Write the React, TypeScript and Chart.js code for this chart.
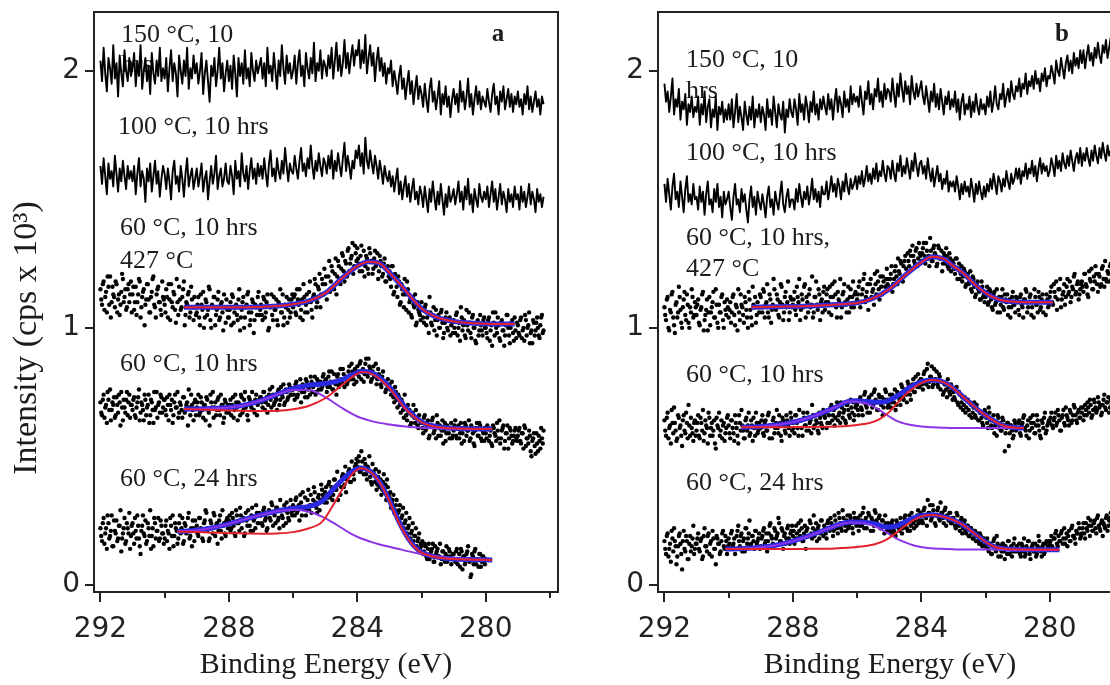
import React, { useEffect, useRef } from "react";
import { Chart, registerables } from "chart.js";

Chart.register(...registerables);

// ---------- axes ----------
const E_START = 292; // binding energy of first sample (eV)
const STEP = 0.05; // eV between consecutive samples of one array
const E_START_ODD = 291.975; // interleaved second pass of the dotted spectra
const X_TICKS = [292, 288, 284, 280];
const X_MINOR = [290, 286, 282, 278];
const Y_TICKS = [0, 1, 2];

// ---------- panel a : measured spectra (intensity x 100, 292 eV downward) ----------
const A_150C = [
  204,196,209,199,192,205,201,195,210,197,203,190,206,199,194,208,200,196,205,198,
  201,207,194,203,198,210,193,200,205,196,202,191,207,199,195,204,198,209,196,201,
  197,205,192,201,208,196,203,199,190,206,200,195,204,198,209,193,201,197,206,199,
  203,195,200,207,191,199,204,196,188,202,198,205,194,200,209,197,203,192,199,204,
  196,202,193,206,199,190,205,198,203,195,208,197,201,194,207,200,196,204,199,202,
  205,197,203,194,209,199,202,196,207,200,193,204,198,210,201,195,206,199,203,197,
  200,206,195,203,208,198,202,194,207,201,197,205,199,211,196,203,200,208,197,204,
  202,198,206,201,209,197,204,211,200,206,198,203,212,201,207,199,205,210,202,208,
  206,212,201,208,203,214,199,205,210,202,207,196,204,209,200,205,198,203,195,201,
  199,204,194,200,196,191,198,202,193,197,189,195,200,191,196,187,193,198,189,194,
  191,186,195,189,184,193,197,188,192,185,190,196,183,191,187,194,186,190,182,189,
  193,187,191,184,196,188,192,185,190,197,186,191,183,189,194,187,192,185,190,188,
  186,193,188,184,191,195,187,190,183,192,188,194,185,189,193,186,191,184,190,187,
  192,186,189,183,191,187,194,185,190,184,188,192,186,189,183,190,187,
];
const A_100C = [
  163,156,166,159,152,164,158,161,155,167,160,153,162,157,165,159,154,163,158,161,
  157,163,152,160,166,155,161,158,149,162,157,164,153,159,165,156,161,151,158,163,
  160,154,162,157,150,161,165,156,159,153,163,158,151,160,166,155,159,162,154,158,
  162,155,159,164,153,158,161,150,157,163,156,160,167,154,159,162,155,158,164,157,
  156,163,159,152,165,158,161,155,168,160,157,163,154,161,166,158,162,156,164,159,
  163,158,166,160,155,164,169,159,162,157,166,161,158,165,160,170,163,157,164,161,
  160,167,162,158,165,170,161,164,159,166,162,171,163,158,165,161,168,163,159,166,
  164,160,167,162,169,158,165,161,168,163,159,166,172,161,167,163,158,165,162,169,
  166,171,163,168,160,174,165,162,169,164,160,167,163,158,165,161,156,163,159,157,
  161,155,159,153,158,162,152,157,150,155,159,151,156,149,154,158,150,153,148,155,
  152,147,155,150,145,154,149,157,151,146,153,148,156,150,144,152,147,155,149,151,
  154,148,152,157,149,153,146,155,150,158,148,152,145,154,150,147,156,151,149,153,
  150,155,147,152,157,149,154,146,151,156,148,153,150,145,154,149,152,147,155,150,
  152,146,155,149,153,147,151,156,148,153,150,145,154,149,152,147,151,
];
const A_427C = [
  115,109,118,112,106,116,120,110,113,108,117,111,105,114,119,112,107,115,110,118,
  113,107,116,110,119,104,112,115,109,117,111,106,114,120,108,113,116,110,105,112,
  109,115,104,111,117,108,113,102,110,116,107,112,118,105,109,114,106,111,103,108,
  106,112,101,109,114,104,110,107,115,100,108,112,105,111,103,109,106,113,102,107,
  104,110,113,102,108,105,111,99,107,112,104,109,114,101,106,110,103,108,112,105,
  109,103,111,106,113,100,108,105,112,107,103,110,115,106,101,109,112,107,104,111,
  108,113,105,111,115,107,103,112,109,106,114,110,104,113,117,110,115,108,119,113,
  117,111,120,114,124,116,121,113,126,119,123,128,118,125,130,122,127,133,124,129,
  131,125,128,122,130,124,127,121,129,126,123,130,125,119,128,124,121,127,118,124,
  122,116,124,114,119,112,118,110,115,108,113,118,106,111,104,109,113,102,107,105,
  110,104,108,101,106,112,102,105,99,107,103,100,106,102,98,104,100,103,97,102,
  103,98,106,100,95,104,101,97,107,99,102,96,105,100,94,103,99,101,97,104,
  100,96,104,99,93,102,106,98,101,95,103,99,97,105,100,94,102,98,104,96,
  101,97,104,99,95,103,100,106,98,94,102,99,104,97,101,105,99,
];
const A_427C_ODD = [
  111,117,107,114,120,109,104,116,112,118,106,113,109,121,110,115,108,117,113,106,
  116,110,105,113,118,108,114,101,111,117,106,112,119,109,104,115,110,107,118,111,
  106,112,117,103,110,114,107,119,105,111,108,115,101,110,113,104,116,108,112,105,
  109,104,113,107,100,111,105,116,103,109,112,101,107,114,104,110,99,108,111,104,
  107,101,112,106,109,103,115,104,110,100,108,113,106,103,111,98,109,105,114,107,
  105,112,104,110,99,108,113,103,107,111,101,109,106,113,104,108,102,111,106,113,
  112,106,115,109,104,111,117,106,113,110,118,107,112,119,108,116,121,113,117,123,
  120,114,126,118,122,115,127,120,124,117,129,122,126,120,131,125,128,121,132,126,
  127,122,132,125,120,128,123,131,126,121,127,124,129,122,126,120,125,118,123,120,
  119,124,113,121,116,120,109,117,113,119,107,115,110,105,112,108,101,110,106,103,
  107,102,109,104,98,106,101,108,103,97,105,100,107,96,102,106,99,104,101,98,
  100,105,97,102,108,99,103,96,101,106,98,104,100,95,102,97,105,99,103,100,
  98,103,95,101,106,97,100,104,96,102,99,93,101,105,97,100,103,95,99,102,
  98,103,96,100,105,97,101,94,99,103,97,102,100,96,104,98,
];
const A_60C_10H = [
  71,66,74,69,63,72,76,68,70,65,73,67,71,75,64,69,72,66,74,70,
  68,73,65,71,76,67,70,64,72,69,74,66,71,63,68,75,70,67,73,69,
  72,66,70,74,68,63,71,69,75,67,70,65,73,68,71,76,66,70,64,72,
  69,74,67,71,65,70,73,68,62,71,75,69,66,72,68,74,70,65,71,69,
  67,72,70,65,74,69,71,66,73,68,75,70,64,72,69,71,67,74,70,72,
  73,69,75,71,67,74,72,77,70,73,68,76,72,74,78,71,75,73,77,74,
  76,72,79,74,77,71,78,75,80,73,77,81,75,78,74,80,76,79,77,82,
  78,75,81,77,83,76,79,74,82,78,80,84,77,81,79,85,80,83,78,82,
  85,81,87,83,79,86,82,88,84,80,85,82,78,84,81,77,83,79,76,80,
  78,74,76,71,75,69,73,67,71,65,69,64,67,62,66,70,63,65,61,64,
  63,59,66,61,64,58,62,65,60,57,63,61,58,64,60,56,62,59,61,57,
  60,64,57,62,59,55,61,63,58,60,56,62,59,54,61,58,63,57,60,56,
  59,62,56,60,54,61,58,63,57,55,60,62,56,59,53,61,58,56,60,57,
  58,61,55,59,62,54,57,60,52,56,59,51,55,58,53,57,60,
];
const A_60C_10H_ODD = [
  67,72,65,70,75,68,64,71,73,66,70,74,62,69,72,67,75,71,65,70,
  72,66,69,73,64,71,68,74,66,70,63,72,68,75,69,65,71,74,67,72,
  68,73,64,70,72,66,74,69,65,71,68,73,67,70,62,69,74,68,71,66,
  71,66,73,68,70,64,72,67,74,69,65,71,68,73,66,70,63,72,67,70,
  70,66,73,68,71,64,70,74,67,72,69,66,73,70,75,68,72,66,71,73,
  71,75,68,73,70,76,69,74,71,72,75,70,77,73,70,76,72,78,74,76,
  74,78,73,76,80,75,77,73,79,76,74,79,77,81,75,79,78,76,81,79,
  80,77,83,79,76,82,78,81,77,84,79,82,80,78,83,81,86,80,84,79,
  83,86,80,84,82,88,81,85,79,83,81,86,80,82,78,81,79,75,78,77,
  76,79,73,77,72,74,70,72,68,74,66,70,68,63,67,65,68,62,66,63,
  61,65,60,63,57,62,64,59,61,66,58,62,60,55,63,59,61,57,63,58,
  62,58,61,57,63,59,56,62,60,64,57,61,55,60,63,58,62,56,59,61,
  57,61,58,55,62,59,56,60,64,57,61,53,59,62,57,60,55,58,61,56,
  60,56,59,53,61,57,55,58,50,57,54,59,52,56,61,55,
];
const A_60C_24H = [
  22,17,26,20,14,24,19,27,15,21,25,18,23,13,20,26,17,22,28,19,
  24,16,21,27,18,12,23,20,25,17,22,29,19,15,24,21,26,18,23,20,
  18,25,21,14,23,27,19,22,16,24,20,26,17,23,21,28,19,15,22,25,
  23,19,26,21,17,25,28,22,18,24,20,27,23,16,25,21,29,24,19,26,
  25,21,28,23,19,27,24,30,22,26,20,25,29,23,27,21,26,31,24,28,
  27,23,30,26,22,29,25,31,28,24,30,26,33,27,23,29,32,26,30,28,
  31,27,34,29,25,32,36,30,27,33,29,35,31,38,32,28,35,33,37,34,
  36,32,39,34,38,35,41,37,33,40,38,43,39,36,42,45,40,44,41,47,
  46,50,44,48,43,47,41,45,42,39,44,40,37,42,38,35,40,36,33,38,
  34,30,33,28,31,26,29,24,27,22,25,20,23,18,21,17,19,15,18,14,
  15,12,16,11,14,10,13,16,9,12,14,11,8,13,10,12,9,14,11,10,
  12,9,14,10,7,13,11,8,12,15,9,4,11,13,8,10,12,7,11,9,
  10,
];
const A_60C_24H_ODD = [
  19,24,16,22,27,18,21,15,25,20,17,23,29,18,22,16,24,20,14,23,
  20,26,18,23,15,21,27,19,16,24,19,14,22,26,18,21,17,25,20,16,
  23,17,20,26,19,15,24,21,18,27,22,16,24,20,26,18,22,25,17,21,
  20,26,22,18,24,29,21,17,25,22,28,19,24,21,27,18,23,20,25,22,
  27,22,26,20,29,24,21,27,25,19,28,23,26,21,30,25,22,28,24,27,
  24,29,25,21,28,26,32,23,27,30,25,22,29,26,31,24,28,25,33,27,
  29,33,28,31,35,27,30,34,29,37,31,28,33,36,30,34,29,39,35,32,
  38,34,40,36,33,41,37,44,39,35,42,38,46,41,44,40,48,43,46,49,
  48,44,52,45,49,43,46,50,40,47,43,45,39,44,41,37,43,39,41,35,
  36,32,35,29,33,28,31,26,30,24,28,22,26,20,24,19,22,17,20,16,
  17,13,15,10,16,12,14,9,15,13,11,16,10,13,9,15,11,13,8,12,
  10,13,8,12,14,6,11,9,13,10,3,12,8,14,10,7,12,9,11,8,
];

// ---------- panel a : peak fits ----------
const FIT_A427_E = [289.4, 288.5, 287.5, 286.5, 286.0, 285.5, 285.0, 284.5, 284.0, 283.65, 283.3, 283.0, 282.5, 282.0, 281.5, 281.0, 280.5, 280.0, 279.1];
const FIT_A427_SUM = [1.080, 1.080, 1.080, 1.085, 1.092, 1.105, 1.135, 1.190, 1.240, 1.257, 1.250, 1.215, 1.145, 1.075, 1.040, 1.025, 1.019, 1.016, 1.015];

const FIT_A10_E = [289.4, 288.5, 288.0, 287.5, 287.0, 286.5, 286.0, 285.5, 285.0, 284.5, 284.0, 283.85, 283.5, 283.0, 282.5, 282.0, 281.5, 281.0, 280.5, 279.8];
const FIT_A10_SUM = [0.684, 0.686, 0.690, 0.700, 0.717, 0.741, 0.764, 0.777, 0.783, 0.797, 0.826, 0.831, 0.822, 0.770, 0.690, 0.634, 0.615, 0.609, 0.607, 0.606];
const FIT_A10_C1 = [0.684, 0.680, 0.678, 0.677, 0.676, 0.677, 0.683, 0.697, 0.726, 0.775, 0.822, 0.828, 0.818, 0.765, 0.685, 0.632, 0.614, 0.609, 0.607, 0.606];
const FIT_A10_C2 = [0.684, 0.686, 0.690, 0.700, 0.717, 0.740, 0.758, 0.758, 0.730, 0.690, 0.655, 0.648, 0.635, 0.624, 0.616, 0.611, 0.609, 0.607, 0.606, 0.606];

const FIT_A24_E = [289.6, 289.0, 288.5, 288.0, 287.5, 287.0, 286.5, 286.0, 285.5, 285.1, 284.8, 284.5, 284.2, 283.9, 283.6, 283.3, 283.0, 282.7, 282.4, 282.1, 281.8, 281.4, 281.0, 280.5, 279.8];
const FIT_A24_SUM = [0.207, 0.212, 0.222, 0.237, 0.255, 0.272, 0.287, 0.298, 0.305, 0.325, 0.365, 0.405, 0.438, 0.455, 0.442, 0.400, 0.328, 0.245, 0.178, 0.135, 0.116, 0.105, 0.100, 0.098, 0.097];
const FIT_A24_C1 = [0.207, 0.205, 0.203, 0.201, 0.200, 0.199, 0.200, 0.205, 0.220, 0.245, 0.300, 0.365, 0.425, 0.454, 0.440, 0.398, 0.325, 0.240, 0.175, 0.133, 0.115, 0.104, 0.100, 0.098, 0.097];
const FIT_A24_C2 = [0.207, 0.212, 0.222, 0.237, 0.255, 0.272, 0.286, 0.292, 0.284, 0.265, 0.245, 0.222, 0.199, 0.181, 0.168, 0.157, 0.148, 0.139, 0.130, 0.122, 0.116, 0.108, 0.103, 0.099, 0.097];

// ---------- panel b : measured spectra (intensity x 100, 292 eV downward) ----------
const B_150C = [
  195,188,192,184,190,197,183,189,186,193,181,188,185,191,179,187,184,190,182,186,
  184,190,179,187,183,192,180,186,189,178,185,182,190,177,186,183,188,180,185,181,
  187,181,189,178,184,191,180,186,182,177,188,183,179,186,181,190,178,185,182,187,
  180,186,183,177,189,182,185,179,190,184,178,187,183,181,188,176,185,182,189,184,
  182,189,185,179,191,184,187,181,190,186,180,188,184,192,183,187,181,189,185,190,
  186,183,191,185,189,181,188,193,184,190,187,182,192,186,189,184,194,187,191,188,
  190,186,194,188,183,192,189,196,187,191,185,193,190,197,188,192,186,195,189,193,
  192,188,197,191,186,195,190,199,193,188,196,191,194,187,198,192,189,195,190,193,
  196,190,187,194,189,184,192,188,195,186,191,185,193,188,183,190,187,192,185,189,
  186,192,184,189,181,188,191,183,187,185,190,182,188,184,191,186,183,189,185,187,
  183,190,186,192,184,188,194,187,185,191,189,195,186,190,193,188,196,191,189,194,
  192,197,190,195,193,199,191,196,194,198,193,200,195,197,192,199,196,201,194,198,
  197,202,199,195,204,200,198,205,201,197,203,206,200,204,199,207,202,205,201,208,
  203,208,201,206,210,204,207,202,209,205,211,206,203,210,207,212,205,209,213,207,
  210,206,213,208,211,
];
const B_100C = [
  156,149,158,152,146,155,160,150,153,147,157,151,145,154,159,149,152,148,156,150,
  151,146,155,149,153,144,152,157,148,150,145,154,149,156,147,151,143,153,148,150,
  153,147,142,151,156,148,150,145,154,149,152,146,141,150,155,147,151,144,153,149,
  146,152,148,143,151,155,147,150,144,153,149,146,152,157,148,145,151,154,147,150,
  150,146,154,149,156,151,147,153,150,155,148,152,158,150,154,149,153,147,155,152,
  152,157,150,154,159,153,156,151,158,155,150,157,153,160,155,152,158,154,156,159,
  154,159,156,161,155,158,163,157,160,156,162,158,164,157,161,159,165,160,157,163,
  162,158,165,160,157,164,161,167,159,163,160,166,162,158,165,161,168,163,159,164,
  165,160,163,158,166,161,157,162,155,159,163,157,160,154,158,156,161,153,157,155,
  157,153,159,155,150,156,152,157,153,155,151,158,154,149,156,152,157,153,150,155,
  151,156,153,158,154,160,156,152,159,157,153,158,155,161,157,154,160,156,158,162,
  158,162,156,161,159,164,158,162,160,165,159,163,157,162,166,160,164,161,163,159,
  161,166,163,159,167,162,165,161,168,164,162,167,163,169,165,161,166,168,164,170,
  163,168,165,170,166,163,169,165,171,167,164,170,166,172,168,165,171,167,169,173,
  168,172,166,171,169,
];
const B_427C = [
  108,103,112,99,106,114,101,109,104,116,107,100,111,105,113,102,108,115,104,110,
  105,111,101,108,114,103,107,99,112,106,110,104,115,102,109,106,113,100,107,111,
  104,110,106,113,101,108,115,103,109,105,112,107,100,111,104,116,108,102,110,106,
  112,106,114,109,117,104,111,107,119,108,113,105,110,116,103,112,108,118,106,111,
  109,114,105,112,119,107,111,116,104,110,113,108,120,106,112,109,115,103,111,114,
  107,113,110,116,105,112,118,108,114,110,104,113,117,109,111,106,115,112,108,114,
  111,116,108,113,119,110,114,107,117,112,115,121,113,118,111,116,120,114,119,117,
  116,121,114,119,124,117,122,126,119,124,128,121,126,130,123,128,125,131,127,129,
  126,131,128,133,127,124,130,126,132,128,125,131,127,122,129,125,128,123,127,124,
  125,121,127,123,119,124,120,122,117,121,118,115,120,116,113,118,114,111,116,113,
  112,116,110,114,108,113,109,115,111,106,112,108,113,110,105,111,108,114,109,112,
  110,105,113,108,111,115,106,110,113,108,104,112,109,114,107,111,106,110,113,108,
  112,116,109,114,118,111,115,108,113,117,112,119,114,110,116,120,113,117,111,115,
  118,114,121,116,112,119,123,115,118,121,114,120,117,124,116,119,122,118,125,120,
  121,118,124,120,123,
];
const B_427C_ODD = [
  105,111,100,107,113,104,98,110,106,112,102,108,114,103,109,100,106,112,105,108,
  109,102,107,113,99,105,111,106,101,108,114,104,109,100,106,112,103,110,105,108,
  107,102,112,105,109,99,106,113,108,102,110,104,114,107,101,109,112,105,108,113,
  108,115,104,110,106,113,102,109,115,107,111,104,117,109,106,114,110,103,112,108,
  111,107,116,110,103,113,108,117,112,106,115,109,104,112,118,107,113,110,106,116,
  110,115,106,112,117,109,113,104,111,119,108,114,110,106,116,112,108,118,113,110,
  113,118,110,115,121,112,117,111,119,114,109,117,122,115,120,113,118,116,123,119,
  119,124,117,122,120,127,121,125,118,126,123,129,124,128,132,126,130,124,133,128,
  129,133,125,130,128,135,126,131,129,124,132,127,130,125,128,131,124,129,122,126,
  123,127,119,125,121,118,123,116,120,117,122,114,119,112,117,115,111,118,112,110,
  114,109,115,111,107,114,110,106,112,109,115,107,111,113,108,104,112,109,106,111,
  107,112,109,104,111,114,108,112,105,110,115,109,106,112,108,113,110,105,111,109,
  114,110,117,112,107,115,119,111,114,109,116,113,118,112,115,121,114,118,113,117,
  116,121,117,113,122,118,115,120,124,117,121,116,123,119,126,118,121,124,119,122,
  119,125,121,124,
];
const B_60C_10H = [
  64,58,67,61,55,63,69,60,57,65,62,54,66,59,63,70,58,61,56,64,
  60,66,57,63,68,59,62,55,65,61,58,64,53,62,67,60,57,63,59,65,
  62,57,64,59,66,61,55,63,68,60,57,65,62,58,64,56,61,67,59,63,
  61,66,58,64,60,67,62,57,65,61,68,59,63,56,64,60,66,62,58,65,
  63,59,66,61,68,64,58,65,62,67,60,64,70,61,66,63,59,65,62,68,
  65,61,68,63,70,66,62,69,64,67,71,65,68,63,70,66,72,67,64,69,
  70,66,73,68,71,75,69,72,67,74,70,76,71,68,73,70,66,72,75,69,
  72,69,74,71,68,75,73,70,77,72,75,71,78,74,76,80,75,78,82,77,
  80,76,83,78,86,79,81,77,84,80,78,82,76,79,75,78,73,77,74,76,
  75,72,77,70,74,71,68,73,69,72,66,70,67,71,65,68,64,67,63,66,
  67,63,69,64,61,66,62,58,65,63,60,64,52,61,63,59,62,57,64,60,
  61,64,58,63,66,60,62,57,65,61,63,59,66,62,58,64,61,67,60,63,
  63,67,61,65,62,68,64,60,66,63,69,65,62,67,64,70,66,63,68,65,
  67,64,70,66,69,72,65,68,71,67,73,69,66,70,74,68,71,67,72,70,
  71,68,73,69,72,
];
const B_60C_10H_ODD = [
  60,65,57,62,68,59,63,56,66,61,58,64,60,67,57,62,65,59,63,58,
  63,58,65,60,56,64,61,67,58,63,60,55,65,61,58,64,62,56,61,66,
  59,64,61,56,63,58,66,60,62,57,64,60,67,59,62,65,58,63,60,61,
  64,59,63,60,66,57,62,64,59,63,61,66,58,65,62,59,64,61,67,60,
  61,66,63,58,64,61,67,62,60,65,63,59,66,62,64,60,67,63,61,66,
  67,63,66,69,64,68,65,71,66,63,69,67,64,70,68,65,69,71,66,70,
  68,72,69,66,74,70,67,73,71,69,75,72,68,74,71,73,69,76,72,70,
  74,71,73,76,70,74,72,78,73,76,74,79,76,72,78,75,81,77,79,80,
  78,82,79,84,77,81,85,78,80,83,77,81,79,74,78,76,80,75,78,72,
  73,76,71,75,69,73,70,67,72,68,71,65,69,66,70,64,67,65,62,68,
  65,61,67,62,64,59,63,66,61,60,65,62,59,63,54,62,60,58,63,61,
  63,59,62,65,61,58,64,60,63,66,59,62,64,60,57,63,65,59,62,64,
  65,62,64,67,63,66,60,65,68,62,66,64,68,63,66,69,64,67,65,69,
  69,66,68,71,67,70,66,72,69,68,71,70,67,72,69,71,73,69,70,72,
  70,73,68,71,
];
const B_60C_24H = [
  17,12,20,14,9,18,22,15,11,19,16,6,21,13,17,10,19,15,23,14,
  16,20,13,18,11,22,15,19,12,17,21,14,8,18,16,13,20,15,19,12,
  18,14,21,16,12,19,23,15,20,17,13,22,18,25,16,19,14,21,17,20,
  15,19,22,17,13,20,24,18,15,21,19,26,17,22,14,20,18,23,16,21,
  19,16,23,18,21,25,17,20,14,22,19,24,18,27,21,17,23,20,25,19,
  22,18,25,21,24,19,27,23,20,26,22,29,24,21,27,23,26,22,28,25,
  24,21,27,23,30,25,22,28,24,26,21,29,25,23,27,22,25,20,24,22,
  23,20,25,21,19,24,22,26,20,23,27,22,25,21,28,24,26,23,29,25,
  27,24,30,26,33,28,25,31,27,23,29,26,32,28,24,30,27,25,28,24,
  26,23,28,24,21,26,22,25,20,23,19,22,18,21,17,20,16,19,15,18,
  15,18,13,16,12,17,14,19,11,15,13,16,10,14,17,12,15,13,18,14,
  13,16,11,15,18,12,14,17,10,15,13,16,12,19,14,11,16,13,17,15,
  16,19,14,18,21,15,17,20,16,22,18,15,21,17,23,19,16,20,24,18,
  20,24,18,22,26,19,23,21,25,20,27,22,24,19,23,26,21,25,28,23,
  24,21,27,23,26,
];
const B_60C_24H_ODD = [
  14,19,11,16,21,13,17,8,15,20,12,17,14,19,10,16,13,18,12,16,
  18,14,17,10,19,15,13,20,16,11,18,14,19,16,12,17,21,14,17,15,
  16,20,15,18,14,21,17,19,13,18,22,16,20,15,19,17,21,16,18,14,
  18,21,16,20,17,23,19,16,22,18,20,24,17,21,19,16,22,18,20,23,
  21,18,20,24,19,22,17,23,21,19,25,20,22,19,24,22,18,25,21,23,
  20,24,22,26,23,21,25,22,28,24,21,26,23,25,22,27,24,20,26,23,
  26,23,25,28,22,26,24,27,21,25,23,28,24,26,22,25,23,27,21,24,
  21,24,22,20,25,23,21,24,22,26,24,21,27,23,26,22,25,27,24,28,
  25,29,27,23,28,31,26,29,24,27,30,25,28,26,29,23,26,28,24,26,
  25,22,27,23,25,20,24,21,23,19,22,20,18,21,19,17,20,16,18,15,
  17,14,16,12,15,18,13,16,14,11,16,13,15,12,17,14,11,16,13,15,
  14,12,16,13,11,15,17,12,14,16,13,11,15,17,13,15,12,16,14,17,
  17,15,18,20,16,19,17,21,18,16,20,19,17,22,19,18,21,20,22,19,
  22,20,24,21,23,25,21,24,22,26,23,21,25,24,22,27,23,26,24,22,
  23,26,24,25,
];

// ---------- panel b : peak fits ----------
const FIT_B427_E = [289.3, 288.5, 287.5, 287.0, 286.5, 286.0, 285.5, 285.0, 284.5, 284.0, 283.66, 283.3, 283.0, 282.7, 282.3, 281.8, 281.3, 280.8, 279.9];
const FIT_B427_SUM = [1.080, 1.082, 1.085, 1.088, 1.092, 1.097, 1.115, 1.150, 1.205, 1.255, 1.277, 1.268, 1.240, 1.213, 1.165, 1.121, 1.103, 1.100, 1.100];

const FIT_B10_E = [289.6, 289.0, 288.5, 288.0, 287.5, 287.0, 286.6, 286.3, 286.0, 285.6, 285.3, 285.0, 284.75, 284.4, 284.0, 283.66, 283.3, 283.0, 282.6, 282.1, 281.5, 281.2, 280.8];
const FIT_B10_SUM = [0.613, 0.616, 0.622, 0.633, 0.650, 0.674, 0.695, 0.713, 0.716, 0.712, 0.710, 0.718, 0.735, 0.765, 0.790, 0.797, 0.788, 0.765, 0.720, 0.668, 0.622, 0.613, 0.610];
const FIT_B10_C1 = [0.613, 0.613, 0.613, 0.614, 0.614, 0.615, 0.616, 0.618, 0.622, 0.630, 0.645, 0.672, 0.707, 0.750, 0.785, 0.797, 0.788, 0.765, 0.720, 0.668, 0.622, 0.613, 0.610];
const FIT_B10_C2 = [0.613, 0.616, 0.622, 0.633, 0.650, 0.674, 0.695, 0.713, 0.712, 0.700, 0.680, 0.655, 0.637, 0.624, 0.616, 0.613, 0.611, 0.610, 0.610, 0.610, 0.610, 0.610, 0.610];

const FIT_B24_E = [290.1, 289.5, 289.0, 288.5, 288.0, 287.5, 287.0, 286.6, 286.2, 285.8, 285.4, 285.1, 284.8, 284.5, 284.2, 283.9, 283.7, 283.4, 283.0, 282.7, 282.3, 281.8, 281.4, 281.0, 279.7];
const FIT_B24_SUM = [0.139, 0.141, 0.146, 0.155, 0.170, 0.190, 0.214, 0.233, 0.244, 0.243, 0.236, 0.225, 0.228, 0.245, 0.262, 0.271, 0.273, 0.268, 0.252, 0.233, 0.195, 0.152, 0.140, 0.137, 0.136];
const FIT_B24_C1 = [0.139, 0.139, 0.139, 0.139, 0.139, 0.140, 0.140, 0.142, 0.145, 0.150, 0.160, 0.175, 0.200, 0.230, 0.255, 0.270, 0.272, 0.268, 0.252, 0.233, 0.195, 0.152, 0.140, 0.137, 0.136];
const FIT_B24_C2 = [0.139, 0.141, 0.146, 0.155, 0.170, 0.190, 0.214, 0.232, 0.242, 0.240, 0.225, 0.205, 0.182, 0.165, 0.152, 0.145, 0.142, 0.140, 0.138, 0.137, 0.137, 0.137, 0.136, 0.136, 0.136];

// ---------- styling ----------
const BLUE = "#2a2ae0";
const RED = "#e3232c";
const PURPLE = "#8d34e6";
const INK = "#1c1c1c";
const SERIF = "'Liberation Serif', 'Times New Roman', serif";
const SANS = "'DejaVu Sans', Verdana, sans-serif";

type Label = { text: string; x: number; y: number; bold?: boolean; center?: boolean };
type Fit = { e: number[]; sum: number[]; c1: number[]; c2?: number[] };
type PanelSpec = { lines: number[][]; dots: number[][][]; fits: Fit[]; labels: Label[]; yTitle: boolean };

const PANEL_A: PanelSpec = {
  lines: [A_150C, A_100C],
  dots: [
    [A_427C, A_427C_ODD],
    [A_60C_10H, A_60C_10H_ODD],
    [A_60C_24H, A_60C_24H_ODD],
  ],
  fits: [
    { e: FIT_A427_E, sum: FIT_A427_SUM, c1: FIT_A427_SUM },
    { e: FIT_A10_E, sum: FIT_A10_SUM, c1: FIT_A10_C1, c2: FIT_A10_C2 },
    { e: FIT_A24_E, sum: FIT_A24_SUM, c1: FIT_A24_C1, c2: FIT_A24_C2 },
  ],
  labels: [
    { text: "150 °C, 10", x: 121, y: 35 },
    { text: "hrs", x: 121, y: 65 },
    { text: "a", x: 498, y: 35, bold: true, center: true },
    { text: "100 °C, 10 hrs", x: 118, y: 127 },
    { text: "60 °C, 10 hrs", x: 120, y: 228 },
    { text: "427 °C", x: 120, y: 261 },
    { text: "60 °C, 10 hrs", x: 120, y: 364 },
    { text: "60 °C, 24 hrs", x: 120, y: 479 },
  ],
  yTitle: true,
};

const PANEL_B: PanelSpec = {
  lines: [B_150C, B_100C],
  dots: [
    [B_427C, B_427C_ODD],
    [B_60C_10H, B_60C_10H_ODD],
    [B_60C_24H, B_60C_24H_ODD],
  ],
  fits: [
    { e: FIT_B427_E, sum: FIT_B427_SUM, c1: FIT_B427_SUM },
    { e: FIT_B10_E, sum: FIT_B10_SUM, c1: FIT_B10_C1, c2: FIT_B10_C2 },
    { e: FIT_B24_E, sum: FIT_B24_SUM, c1: FIT_B24_C1, c2: FIT_B24_C2 },
  ],
  labels: [
    { text: "b", x: 1062 - 564, y: 35, bold: true, center: true },
    { text: "150 °C, 10", x: 686 - 564, y: 60 },
    { text: "hrs", x: 686 - 564, y: 91 },
    { text: "100 °C, 10 hrs", x: 686 - 564, y: 153 },
    { text: "60 °C, 10 hrs,", x: 686 - 564, y: 238 },
    { text: "427 °C", x: 686 - 564, y: 269 },
    { text: "60 °C, 10 hrs", x: 686 - 564, y: 375 },
    { text: "60 °C, 24 hrs", x: 686 - 564, y: 483 },
  ],
  yTitle: false,
};

const sampled = (vals: number[], start = E_START) =>
  vals.map((v, i) => ({ x: start - i * STEP, y: v / 100 }));
const paired = (e: number[], v: number[]) => e.map((x, i) => ({ x, y: v[i] }));

function buildDatasets(p: PanelSpec) {
  const ds: any[] = [];
  p.lines.forEach((v) =>
    ds.push({
      type: "line",
      data: sampled(v),
      borderColor: "#000",
      borderWidth: 1.9,
      borderJoinStyle: "round",
      pointRadius: 0,
      tension: 0,
      order: 5,
    })
  );
  p.dots.forEach(([even, odd]) =>
    ds.push({
      type: "scatter",
      data: [...sampled(even), ...sampled(odd, E_START_ODD)],
      showLine: false,
      pointRadius: 2.2,
      pointBackgroundColor: "#000",
      pointBorderWidth: 0,
      order: 10,
    })
  );
  p.fits.forEach((f) => {
    const common = { type: "line", pointRadius: 0, cubicInterpolationMode: "monotone", fill: false };
    ds.push({ ...common, data: paired(f.e, f.sum), borderColor: BLUE, borderWidth: 5, order: 3 });
    if (f.c2) ds.push({ ...common, data: paired(f.e, f.c2), borderColor: PURPLE, borderWidth: 2, order: 2 });
    ds.push({ ...common, data: paired(f.e, f.c1), borderColor: RED, borderWidth: 2, order: 1 });
  });
  return ds;
}

function decoPlugin(p: PanelSpec) {
  return {
    id: "deco",
    beforeDatasetsDraw(chart: any) {
      const ctx = chart.ctx;
      ctx.save();
      ctx.fillStyle = INK;
      ctx.textBaseline = "middle";
      p.labels.forEach((l) => {
        ctx.font = l.bold ? `bold 25px ${SERIF}` : `26px ${SERIF}`;
        ctx.textAlign = l.center ? "center" : "left";
        ctx.fillText(l.text, l.x, l.y);
      });
      ctx.restore();
    },
    afterDraw(chart: any) {
      const ctx = chart.ctx;
      const a = chart.chartArea;
      const xs = chart.scales.x;
      ctx.save();
      ctx.strokeStyle = "#222";
      ctx.lineWidth = 2;
      ctx.strokeRect(a.left, a.top, a.right - a.left, a.bottom - a.top);
      X_MINOR.forEach((v) => {
        const px = Math.round(xs.getPixelForValue(v));
        ctx.beginPath();
        ctx.moveTo(px, a.bottom);
        ctx.lineTo(px, a.bottom + 6);
        ctx.stroke();
      });
      if (p.yTitle) {
        ctx.translate(27, 338);
        ctx.rotate(-Math.PI / 2);
        ctx.fillStyle = INK;
        ctx.font = `34px ${SERIF}`;
        ctx.textAlign = "center";
        ctx.textBaseline = "middle";
        ctx.fillText("Intensity (cps x 10³)", 0, 0);
      }
      ctx.restore();
    },
  };
}

function buildConfig(p: PanelSpec): any {
  return {
    type: "line",
    data: { datasets: buildDatasets(p) },
    plugins: [decoPlugin(p)],
    options: {
      animation: false,
      responsive: false,
      devicePixelRatio: 1,
      events: [],
      layout: { padding: { top: 12, right: 22, bottom: 0, left: 0 } },
      plugins: { legend: { display: false }, tooltip: { enabled: false } },
      scales: {
        x: {
          type: "linear",
          reverse: true,
          min: 277.75,
          max: 292.2,
          afterBuildTicks: (s: any) => {
            s.ticks = X_TICKS.map((v) => ({ value: v }));
          },
          afterFit: (s: any) => {
            s.height = 93;
            s.paddingLeft = 0;
            s.paddingRight = 0;
          },
          ticks: {
            font: { family: SANS, size: 28 },
            color: "#222",
            padding: 11,
            maxRotation: 0,
            autoSkip: false,
            callback: (v: any) => String(v),
          },
          grid: { drawOnChartArea: false, drawTicks: true, tickLength: 10, color: "#222", lineWidth: 2 },
          border: { display: true, color: "#222", width: 2 },
          title: {
            display: true,
            text: "Binding Energy (eV)",
            font: { family: SERIF, size: 30 },
            color: INK,
            padding: { top: 0, bottom: 2 },
          },
        },
        y: {
          type: "linear",
          min: -0.028,
          max: 2.229,
          afterBuildTicks: (s: any) => {
            s.ticks = Y_TICKS.map((v) => ({ value: v }));
          },
          afterFit: (s: any) => {
            s.width = 94;
            s.paddingTop = 0;
            s.paddingBottom = 0;
          },
          ticks: {
            font: { family: SANS, size: 28 },
            color: "#222",
            padding: 5,
            callback: (v: any) => String(v),
          },
          grid: { drawOnChartArea: false, drawTicks: true, tickLength: 9, color: "#222", lineWidth: 2 },
          border: { display: true, color: "#222", width: 2 },
        },
      },
    },
  };
}

function Panel({ spec, left }: { spec: PanelSpec; left: number }) {
  const ref = useRef<HTMLCanvasElement>(null);
  useEffect(() => {
    const chart = new Chart(ref.current as HTMLCanvasElement, buildConfig(spec));
    return () => chart.destroy();
  }, [spec]);
  return (
    <canvas
      ref={ref}
      width={580}
      height={685}
      style={{ position: "absolute", left, top: 0, width: 580, height: 685 }}
    />
  );
}

export default function App() {
  return (
    <div style={{ position: "fixed", inset: 0, overflow: "hidden", background: "#fff" }}>
      <Panel spec={PANEL_A} left={0} />
      <Panel spec={PANEL_B} left={564} />
    </div>
  );
}
